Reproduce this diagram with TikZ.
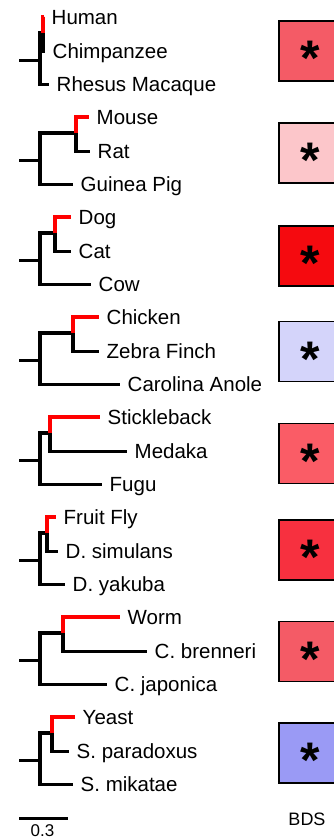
\documentclass[tikz,border=0pt]{standalone}
\usepackage{fontspec}
\setmainfont{Liberation Sans}
\definecolor{bdsA}{HTML}{F45B66}
\definecolor{bdsB}{HTML}{FCC6CA}
\definecolor{bdsC}{HTML}{F50A0F}
\definecolor{bdsD}{HTML}{D4D4FA}
\definecolor{bdsE}{HTML}{FA5C66}
\definecolor{bdsF}{HTML}{F7303F}
\definecolor{bdsG}{HTML}{F45B66}
\definecolor{bdsH}{HTML}{9A9AF5}
\tikzset{
  branch/.style={line width=3.8pt, black, line join=miter},
  stub/.style={line width=3pt, black},
  hit/.style={line width=3.4pt, red, line join=miter},
  species/.style={anchor=base west, inner sep=0pt, xshift=7.5pt, yshift=-7.3pt,
    font=\fontsize{20.5}{23}\selectfont},
  bdsbox/.style={draw=black, line width=1.9pt, minimum width=66pt, minimum height=60pt,
    inner sep=0pt},
  star/.style={anchor=base, inner sep=0pt, font=\fontsize{50}{54}\selectfont\bfseries},
}
% one three-taxon tree: #1 vertical offset, #2 inner node x, #3 red tip x,
% #4 sister tip x, #5 outgroup tip x, #6-#8 taxon names
\newcommand{\threetaxa}[8]{
  \coordinate (s#1) at (19,#1+60);
  \coordinate (r#1) at (40,#1+60);
  \coordinate (n#1) at (40,#1+33);
  \coordinate (i#1) at (#2,#1+33);
  \coordinate (a#1) at (#2,#1+17);
  \coordinate (at#1) at (#3,#1+17);
  \coordinate (b#1) at (#2,#1+51.5);
  \coordinate (bt#1) at (#4,#1+51.5);
  \coordinate (o#1) at (40,#1+84.5);
  \coordinate (ot#1) at (#5,#1+84.5);
  \draw[stub] (s#1) -- (r#1);
  \draw[branch] (i#1) -- (n#1) -- (o#1) -- (ot#1);
  \draw[branch] (i#1) -- (b#1) -- (bt#1);
  \draw[hit] (i#1) -- (a#1) -- (at#1);
  \node[species] (la#1) at (at#1) {#6};
  \node[species] (lb#1) at (bt#1) {#7};
  \node[species] (lo#1) at (ot#1) {#8};
}
% BDS box: #1 name, #2 centre y, #3 fill colour
\newcommand{\bdscell}[3]{
  \node[bdsbox, fill=#3] (#1) at (312,#2) {};
  \node[star] (#1s) at (310,#2+24.5) {*};
}
\begin{document}
\begin{tikzpicture}[x=1pt, y=-1pt]
  \useasboundingbox (0,0) rectangle (334,839);
  \clip (0,0) rectangle (334,839);
  \threetaxa{0}{43}{44}{45}{49}{Human}{Chimpanzee}{Rhesus Macaque}
  \threetaxa{100}{76}{89}{90}{73}{Mouse}{Rat}{Guinea Pig}
  \threetaxa{200}{55}{71}{71}{91}{Dog}{Cat}{Cow}
  \threetaxa{300}{73}{99}{99}{120}{Chicken}{Zebra Finch}{Carolina Anole}
  \threetaxa{400}{50}{100}{127}{102}{Stickleback}{Medaka}{Fugu}
  \threetaxa{500}{47}{56}{58}{65}{Fruit Fly}{D. simulans}{D. yakuba}
  \threetaxa{600}{63}{120}{147}{107}{Worm}{C. brenneri}{C. japonica}
  \threetaxa{700}{52}{75}{69}{73}{Yeast}{S. paradoxus}{S. mikatae}
  \bdscell{box1}{51}{bdsA}
  \bdscell{box2}{153}{bdsB}
  \bdscell{box3}{256}{bdsC}
  \bdscell{box4}{351.5}{bdsD}
  \bdscell{box5}{453.5}{bdsE}
  \bdscell{box6}{550}{bdsF}
  \bdscell{box7}{651.5}{bdsG}
  \bdscell{box8}{753}{bdsH}
  % scale bar
  \coordinate (sb0) at (19,818);
  \coordinate (sb1) at (68,818);
  \draw[stub] (sb0) -- (sb1);
  \node[anchor=base, inner sep=0pt, font=\fontsize{17}{20}\selectfont] (sbl) at (42.5,836.5) {0.3};
  \node[anchor=base, inner sep=0pt, font=\fontsize{18}{20}\selectfont] (bds) at (307,825.5) {BDS};
\end{tikzpicture}
\end{document}
